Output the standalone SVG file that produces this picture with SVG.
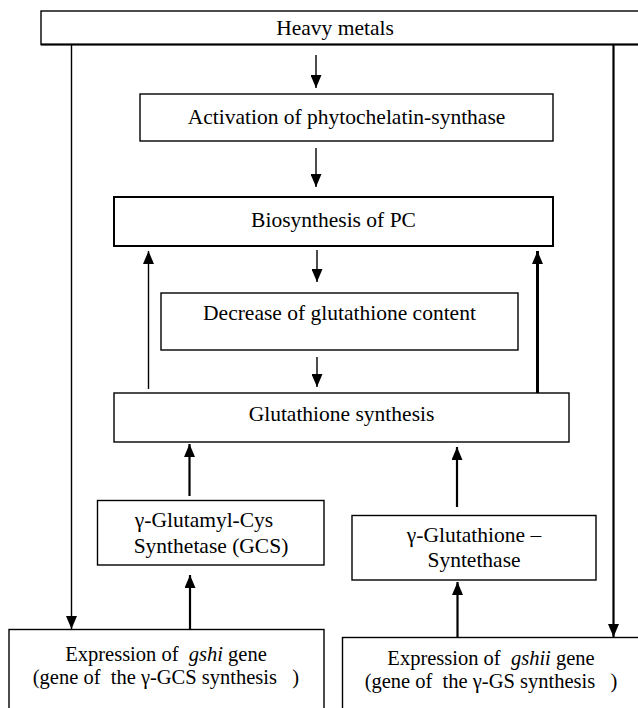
<svg xmlns="http://www.w3.org/2000/svg" width="638" height="708" viewBox="0 0 638 708">
<defs>
<style>
.box{fill:#fff;stroke:#000;stroke-width:1.4}
.bx2{fill:#fff;stroke:#000;stroke-width:2}
.t{font-size:21.5px;fill:#000;text-anchor:middle}
.s{font-size:20.5px}
.c{fill:none;stroke:#000}
.thin{stroke-width:1.4}
.mid{stroke-width:2.2}
.thick{stroke-width:3}
</style>
<marker id="au" markerUnits="userSpaceOnUse" markerWidth="11" markerHeight="13" refX="5.5" refY="0" viewBox="0 0 11 13">
<path d="M5.5,0 L11,13 L0,13 z" fill="#000"/>
</marker>
<marker id="ad" markerUnits="userSpaceOnUse" markerWidth="11" markerHeight="13" refX="5.5" refY="13" viewBox="0 0 11 13">
<path d="M0,0 L11,0 L5.5,13 z" fill="#000"/>
</marker>
</defs>
<rect width="638" height="708" fill="#fff"/>

<g id="connectors">
<path class="c thin" d="M71.5,44 V629" marker-end="url(#ad)"/>
<path class="c mid" d="M613.5,44 V637" marker-end="url(#ad)"/>
<path class="c thin" d="M316,55 V88" marker-end="url(#ad)"/>
<path class="c thin" d="M316,148 V187" marker-end="url(#ad)"/>
<path class="c thin" d="M317,250 V282" marker-end="url(#ad)"/>
<path class="c thin" d="M317,357 V387" marker-end="url(#ad)"/>
<path class="c thin" d="M148.5,389 V251" marker-end="url(#au)"/>
<path class="c thick" d="M537.5,393 V251" marker-end="url(#au)"/>
<path class="c mid" d="M189.5,496 V444" marker-end="url(#au)"/>
<path class="c mid" d="M457,507 V447" marker-end="url(#au)"/>
<path class="c mid" d="M190,629 V575" marker-end="url(#au)"/>
<path class="c mid" d="M457.5,637 V582" marker-end="url(#au)"/>
</g>

<g font-family="'Liberation Serif', 'DejaVu Serif', 'Times New Roman', serif">
<g id="heavy-metals">
<rect class="box" x="41" y="11" width="600" height="33.5"/>
<line x1="41" y1="44.5" x2="641" y2="44.5" stroke="#000" stroke-width="2"/>
<text class="t" x="335" y="35">Heavy metals</text>
</g>

<g id="activation">
<rect class="box" x="140" y="94" width="413" height="47"/>
<text class="t" x="346.5" y="124">Activation of phytochelatin-synthase</text>
</g>

<g id="biosynthesis">
<rect class="bx2" x="114" y="197" width="439" height="49"/>
<text class="t" x="333.5" y="227">Biosynthesis of PC</text>
</g>

<g id="decrease">
<rect class="box" x="161" y="293" width="357" height="57"/>
<text class="t" x="339.5" y="320">Decrease of glutathione content</text>
</g>

<g id="glutathione-synthesis">
<rect class="box" x="114" y="393" width="455" height="49"/>
<text class="t" x="341.5" y="421">Glutathione synthesis</text>
</g>

<g id="gcs">
<rect class="box" x="97.5" y="500.5" width="226.5" height="64.5"/>
<text class="t" x="204" y="527">γ-Glutamyl-Cys</text>
<text class="t" x="211" y="553">Synthetase (GCS)</text>
</g>

<g id="gs">
<rect class="box" x="352" y="515.5" width="244" height="64.5"/>
<text class="t" x="474" y="542">γ-Glutathione –</text>
<text class="t" x="474" y="567">Syntethase</text>
</g>

<g id="gshi">
<rect class="box" x="9" y="629.5" width="315" height="82"/>
<text class="t s" x="166" y="661" xml:space="preserve">Expression of  <tspan font-style="italic">gshi</tspan> gene</text>
<text class="t s" x="166" y="684" xml:space="preserve">(gene of  the γ-GCS synthesis   )</text>
</g>

<g id="gshii">
<rect class="box" x="342.5" y="637.5" width="300" height="75"/>
<text class="t s" x="491" y="665" xml:space="preserve">Expression of  <tspan font-style="italic">gshii</tspan> gene</text>
<text class="t s" x="491" y="688" xml:space="preserve">(gene of  the γ-GS synthesis   )</text>
</g>
</g>
</svg>
